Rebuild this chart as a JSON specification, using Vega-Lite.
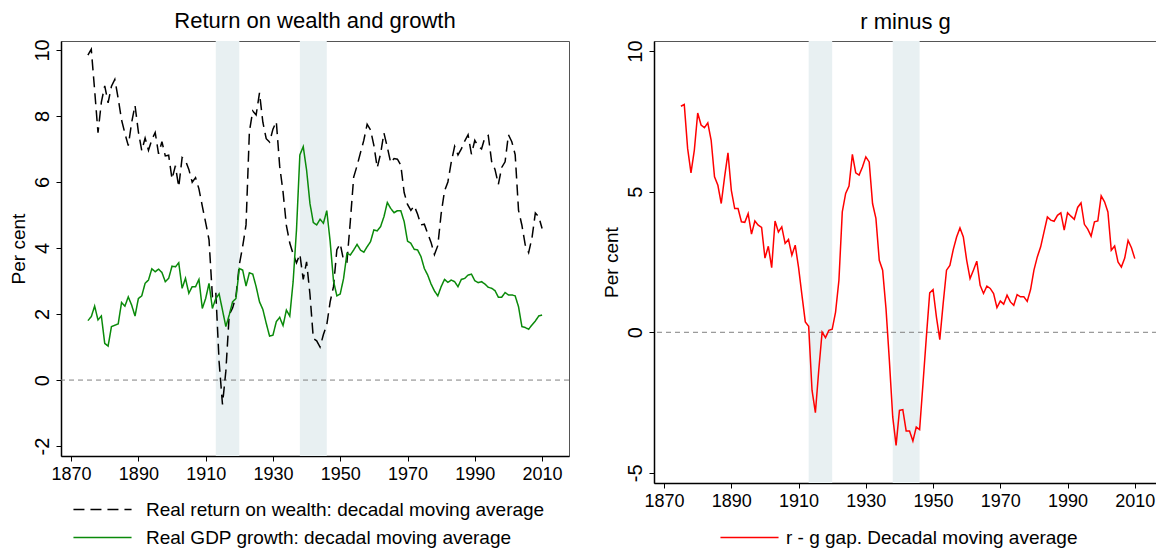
{
  "$schema": "https://vega.github.io/schema/vega-lite/v6.json",
  "padding": {"left": 8, "top": 9, "right": 0, "bottom": 0},
  "spacing": 31,
  "datasets": {
    "wars": [{"start": 1913, "end": 1920}, {"start": 1938, "end": 1946}],
    "series": [
      {"year":1875,"r":9.84,"g":1.80,"gap":8.04},
      {"year":1876,"r":10.02,"g":1.92,"gap":8.10},
      {"year":1877,"r":8.78,"g":2.24,"gap":6.54},
      {"year":1878,"r":7.49,"g":1.82,"gap":5.67},
      {"year":1879,"r":8.42,"g":1.94,"gap":6.48},
      {"year":1880,"r":8.91,"g":1.11,"gap":7.80},
      {"year":1881,"r":8.40,"g":1.03,"gap":7.37},
      {"year":1882,"r":8.90,"g":1.62,"gap":7.28},
      {"year":1883,"r":9.11,"g":1.66,"gap":7.45},
      {"year":1884,"r":8.53,"g":1.70,"gap":6.83},
      {"year":1885,"r":7.88,"g":2.35,"gap":5.53},
      {"year":1886,"r":7.47,"g":2.24,"gap":5.23},
      {"year":1887,"r":7.10,"g":2.52,"gap":4.58},
      {"year":1888,"r":7.80,"g":2.27,"gap":5.53},
      {"year":1889,"r":8.32,"g":1.94,"gap":6.38},
      {"year":1890,"r":7.52,"g":2.47,"gap":5.05},
      {"year":1891,"r":6.95,"g":2.55,"gap":4.40},
      {"year":1892,"r":7.33,"g":2.93,"gap":4.40},
      {"year":1893,"r":6.96,"g":3.03,"gap":3.93},
      {"year":1894,"r":7.28,"g":3.37,"gap":3.91},
      {"year":1895,"r":7.50,"g":3.28,"gap":4.22},
      {"year":1896,"r":6.85,"g":3.36,"gap":3.49},
      {"year":1897,"r":7.22,"g":3.26,"gap":3.96},
      {"year":1898,"r":6.79,"g":2.98,"gap":3.81},
      {"year":1899,"r":6.81,"g":3.08,"gap":3.73},
      {"year":1900,"r":6.09,"g":3.45,"gap":2.64},
      {"year":1901,"r":6.49,"g":3.43,"gap":3.06},
      {"year":1902,"r":5.85,"g":3.55,"gap":2.30},
      {"year":1903,"r":6.74,"g":2.78,"gap":3.96},
      {"year":1904,"r":6.65,"g":3.08,"gap":3.57},
      {"year":1905,"r":6.38,"g":2.63,"gap":3.75},
      {"year":1906,"r":5.99,"g":2.83,"gap":3.16},
      {"year":1907,"r":6.13,"g":2.83,"gap":3.30},
      {"year":1908,"r":5.79,"g":3.05,"gap":2.74},
      {"year":1909,"r":5.27,"g":2.17,"gap":3.10},
      {"year":1910,"r":4.77,"g":2.47,"gap":2.30},
      {"year":1911,"r":4.25,"g":2.93,"gap":1.32},
      {"year":1912,"r":2.54,"g":2.17,"gap":0.37},
      {"year":1913,"r":2.68,"g":2.47,"gap":0.21},
      {"year":1914,"r":0.55,"g":2.61,"gap":-2.06},
      {"year":1915,"r":-0.74,"g":2.12,"gap":-2.86},
      {"year":1916,"r":0.27,"g":1.62,"gap":-1.35},
      {"year":1917,"r":1.98,"g":1.97,"gap":0.01},
      {"year":1918,"r":2.18,"g":2.37,"gap":-0.19},
      {"year":1919,"r":2.54,"g":2.47,"gap":0.07},
      {"year":1920,"r":3.49,"g":3.38,"gap":0.11},
      {"year":1921,"r":4.05,"g":3.33,"gap":0.72},
      {"year":1922,"r":4.70,"g":2.85,"gap":1.85},
      {"year":1923,"r":7.53,"g":3.25,"gap":4.28},
      {"year":1924,"r":8.15,"g":3.21,"gap":4.94},
      {"year":1925,"r":8.03,"g":2.83,"gap":5.20},
      {"year":1926,"r":8.70,"g":2.37,"gap":6.33},
      {"year":1927,"r":7.81,"g":2.14,"gap":5.67},
      {"year":1928,"r":7.31,"g":1.72,"gap":5.59},
      {"year":1929,"r":7.21,"g":1.33,"gap":5.88},
      {"year":1930,"r":7.60,"g":1.36,"gap":6.24},
      {"year":1931,"r":7.83,"g":1.77,"gap":6.06},
      {"year":1932,"r":6.48,"g":1.90,"gap":4.58},
      {"year":1933,"r":5.70,"g":1.65,"gap":4.05},
      {"year":1934,"r":4.68,"g":2.12,"gap":2.56},
      {"year":1935,"r":4.15,"g":1.94,"gap":2.21},
      {"year":1936,"r":3.82,"g":2.98,"gap":0.84},
      {"year":1937,"r":3.55,"g":4.55,"gap":-1.00},
      {"year":1938,"r":3.81,"g":6.82,"gap":-3.01},
      {"year":1939,"r":3.05,"g":7.07,"gap":-4.02},
      {"year":1940,"r":3.58,"g":6.36,"gap":-2.78},
      {"year":1941,"r":2.60,"g":5.35,"gap":-2.75},
      {"year":1942,"r":1.26,"g":4.77,"gap":-3.51},
      {"year":1943,"r":1.19,"g":4.70,"gap":-3.51},
      {"year":1944,"r":1.00,"g":4.87,"gap":-3.87},
      {"year":1945,"r":1.38,"g":4.75,"gap":-3.37},
      {"year":1946,"r":1.67,"g":5.13,"gap":-3.46},
      {"year":1947,"r":2.37,"g":4.20,"gap":-1.83},
      {"year":1948,"r":2.83,"g":3.00,"gap":-0.17},
      {"year":1949,"r":3.95,"g":2.55,"gap":1.40},
      {"year":1950,"r":4.13,"g":2.61,"gap":1.52},
      {"year":1951,"r":3.62,"g":3.08,"gap":0.54},
      {"year":1952,"r":3.58,"g":3.84,"gap":-0.26},
      {"year":1953,"r":4.81,"g":3.79,"gap":1.02},
      {"year":1954,"r":6.15,"g":3.94,"gap":2.21},
      {"year":1955,"r":6.49,"g":4.11,"gap":2.38},
      {"year":1956,"r":6.88,"g":3.94,"gap":2.94},
      {"year":1957,"r":7.26,"g":3.87,"gap":3.39},
      {"year":1958,"r":7.75,"g":4.04,"gap":3.71},
      {"year":1959,"r":7.58,"g":4.19,"gap":3.39},
      {"year":1960,"r":7.11,"g":4.55,"gap":2.56},
      {"year":1961,"r":6.43,"g":4.52,"gap":1.91},
      {"year":1962,"r":6.86,"g":4.65,"gap":2.21},
      {"year":1963,"r":7.48,"g":4.95,"gap":2.53},
      {"year":1964,"r":7.05,"g":5.38,"gap":1.67},
      {"year":1965,"r":6.58,"g":5.20,"gap":1.38},
      {"year":1966,"r":6.71,"g":5.07,"gap":1.64},
      {"year":1967,"r":6.69,"g":5.13,"gap":1.56},
      {"year":1968,"r":6.51,"g":5.13,"gap":1.38},
      {"year":1969,"r":5.68,"g":4.80,"gap":0.88},
      {"year":1970,"r":5.32,"g":4.21,"gap":1.11},
      {"year":1971,"r":5.14,"g":4.14,"gap":1.00},
      {"year":1972,"r":5.28,"g":3.96,"gap":1.32},
      {"year":1973,"r":5.02,"g":3.94,"gap":1.08},
      {"year":1974,"r":4.70,"g":3.74,"gap":0.96},
      {"year":1975,"r":4.72,"g":3.38,"gap":1.34},
      {"year":1976,"r":4.44,"g":3.18,"gap":1.26},
      {"year":1977,"r":4.17,"g":2.91,"gap":1.26},
      {"year":1978,"r":3.80,"g":2.70,"gap":1.10},
      {"year":1979,"r":4.07,"g":2.55,"gap":1.52},
      {"year":1980,"r":5.04,"g":2.83,"gap":2.21},
      {"year":1981,"r":5.73,"g":3.05,"gap":2.68},
      {"year":1982,"r":6.00,"g":2.96,"gap":3.04},
      {"year":1983,"r":6.60,"g":3.03,"gap":3.57},
      {"year":1984,"r":7.08,"g":2.98,"gap":4.10},
      {"year":1985,"r":6.82,"g":2.83,"gap":3.99},
      {"year":1986,"r":7.00,"g":3.05,"gap":3.95},
      {"year":1987,"r":7.24,"g":3.08,"gap":4.16},
      {"year":1988,"r":7.43,"g":3.18,"gap":4.25},
      {"year":1989,"r":6.84,"g":3.21,"gap":3.63},
      {"year":1990,"r":7.26,"g":3.01,"gap":4.25},
      {"year":1991,"r":7.08,"g":2.95,"gap":4.13},
      {"year":1992,"r":7.00,"g":2.98,"gap":4.02},
      {"year":1993,"r":7.35,"g":2.91,"gap":4.44},
      {"year":1994,"r":7.41,"g":2.81,"gap":4.60},
      {"year":1995,"r":6.62,"g":2.78,"gap":3.84},
      {"year":1996,"r":6.38,"g":2.71,"gap":3.67},
      {"year":1997,"r":5.93,"g":2.51,"gap":3.42},
      {"year":1998,"r":6.44,"g":2.51,"gap":3.93},
      {"year":1999,"r":6.61,"g":2.65,"gap":3.96},
      {"year":2000,"r":7.43,"g":2.58,"gap":4.85},
      {"year":2001,"r":7.22,"g":2.58,"gap":4.64},
      {"year":2002,"r":6.83,"g":2.55,"gap":4.28},
      {"year":2003,"r":5.14,"g":2.22,"gap":2.92},
      {"year":2004,"r":4.69,"g":1.62,"gap":3.07},
      {"year":2005,"r":4.09,"g":1.59,"gap":2.50},
      {"year":2006,"r":3.86,"g":1.54,"gap":2.32},
      {"year":2007,"r":4.31,"g":1.67,"gap":2.64},
      {"year":2008,"r":5.06,"g":1.79,"gap":3.27},
      {"year":2009,"r":4.95,"g":1.94,"gap":3.01},
      {"year":2010,"r":4.59,"g":1.97,"gap":2.62}
    ]
  },
  "resolve": {
    "scale": {"color": "independent", "strokeDash": "independent", "x": "independent", "y": "independent"},
    "legend": {"color": "independent", "strokeDash": "independent"}
  },
  "hconcat": [
    {
      "title": "Return on wealth and growth",
      "width": 508,
      "height": 415,
      "layer": [
        {
          "data": {"name": "wars"},
          "mark": {"type": "rect", "color": "#e8f0f2"},
          "encoding": {
            "x": {"field": "start", "type": "quantitative", "scale": {"domain": [1867, 2018], "nice": false, "zero": false},
                  "axis": {"values": [1870, 1890, 1910, 1930, 1950, 1970, 1990, 2010], "title": null, "format": "d"}},
            "x2": {"field": "end"}
          }
        },
        {
          "data": {"values": [{"z": 0}]},
          "mark": {"type": "rule", "color": "#808080", "strokeDash": [5, 4], "strokeWidth": 1},
          "encoding": {"y": {"field": "z", "type": "quantitative"}}
        },
        {
          "data": {"name": "series"},
          "transform": [{"fold": ["r", "g"], "as": ["series", "value"]}],
          "mark": {"type": "line", "strokeWidth": 1.5},
          "encoding": {
            "x": {"field": "year", "type": "quantitative"},
            "y": {"field": "value", "type": "quantitative",
                  "scale": {"domain": [-2.3, 10.27], "nice": false, "zero": false},
                  "axis": {"values": [-2, 0, 2, 4, 6, 8, 10], "title": "Per cent", "labelExpr": "replace(datum.label, '\u2212', '-')"}},
            "color": {"field": "series", "type": "nominal",
                      "scale": {"domain": ["r", "g"], "range": ["#000000", "#0a8a0a"]},
                      "legend": {"orient": "none", "legendX": 32, "legendY": 459, "labelOffset": 34,
                                 "labelExpr": "datum.label == 'r' ? 'Real return on wealth: decadal moving average' : 'Real GDP growth: decadal moving average'"}},
            "strokeDash": {"field": "series", "type": "nominal",
                      "scale": {"domain": ["r", "g"], "range": [[11, 6], [1, 0]]},
                      "legend": {"orient": "none", "legendX": 32, "legendY": 459, "labelOffset": 34,
                                 "labelExpr": "datum.label == 'r' ? 'Real return on wealth: decadal moving average' : 'Real GDP growth: decadal moving average'"}}
          }
        }
      ]
    },
    {
      "title": "r minus g",
      "width": 503,
      "height": 442,
      "layer": [
        {
          "data": {"name": "wars"},
          "mark": {"type": "rect", "color": "#e8f0f2"},
          "encoding": {
            "x": {"field": "start", "type": "quantitative", "scale": {"domain": [1867, 2016.6], "nice": false, "zero": false},
                  "axis": {"values": [1870, 1890, 1910, 1930, 1950, 1970, 1990, 2010], "title": null, "format": "d"}},
            "x2": {"field": "end"}
          }
        },
        {
          "data": {"values": [{"z": 0}]},
          "mark": {"type": "rule", "color": "#808080", "strokeDash": [5, 4], "strokeWidth": 1},
          "encoding": {"y": {"field": "z", "type": "quantitative"}}
        },
        {
          "data": {"name": "series"},
          "mark": {"type": "line", "strokeWidth": 1.5},
          "encoding": {
            "x": {"field": "year", "type": "quantitative"},
            "y": {"field": "gap", "type": "quantitative",
                  "scale": {"domain": [-5.36, 10.36], "nice": false, "zero": false},
                  "axis": {"values": [-5, 0, 5, 10], "title": "Per cent", "labelExpr": "replace(datum.label, '\u2212', '-')"}},
            "color": {"datum": "r - g gap. Decadal moving average", "type": "nominal",
                      "scale": {"range": ["#ff0000"]},
                      "legend": {"orient": "none", "legendX": 86, "legendY": 487, "labelOffset": 27}}
          }
        }
      ]
    }
  ],
  "config": {
    "font": "Liberation Sans",
    "view": {"stroke": "#555555", "strokeWidth": 1},
    "title": {"fontSize": 22, "fontWeight": "normal", "offset": 6, "color": "black"},
    "axis": {
      "grid": false, "labelFontSize": 18, "titleFontSize": 19, "titleFontWeight": "normal",
      "labelColor": "black", "titleColor": "black", "domainColor": "black", "tickColor": "black",
      "tickSize": 5, "domainWidth": 1.5, "labelPadding": 4
    },
    "axisY": {"labelAngle": 270, "labelAlign": "center", "labelBaseline": "bottom", "labelPadding": 4, "titlePadding": 4, "labelFontSize": 20},
    "legend": {
      "direction": "vertical", "title": null, "symbolType": "M-5,0H5",
      "symbolSize": 135, "symbolStrokeWidth": 1.5, "labelFontSize": 19, "labelLimit": 0,
      "rowPadding": 8, "labelColor": "black"
    }
  }
}
